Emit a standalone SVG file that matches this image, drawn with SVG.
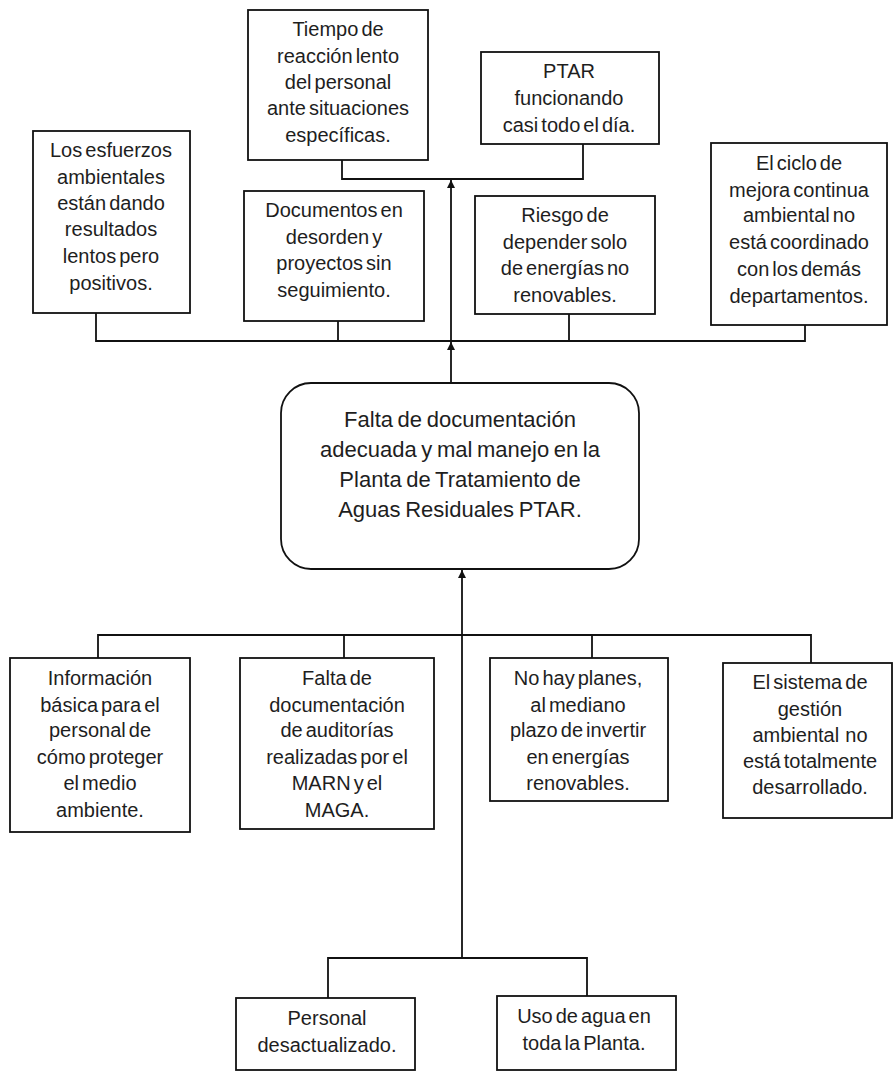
<svg xmlns="http://www.w3.org/2000/svg" width="893" height="1072" viewBox="0 0 893 1072">
  <defs>
    <marker id="arrow" viewBox="0 0 10 10" refX="10" refY="5" markerWidth="9" markerHeight="8" markerUnits="userSpaceOnUse" orient="auto">
      <path d="M0,0 L10,5 L0,10 z" fill="#111"/>
    </marker>
    <style>
      .box { fill: #fff; stroke: #111; stroke-width: 1.8; }
      .conn { fill: none; stroke: #111; stroke-width: 1.8; }
      .t { font-family: "Liberation Sans", Arial, sans-serif; font-size: 20px; fill: #1e1e1e; text-anchor: middle; word-spacing: -2.5px; }
      .main { font-size: 22px; word-spacing: -1.5px; }
    </style>
  </defs>
  <rect width="893" height="1072" fill="#fff"/>

  <!-- connectors -->
  <g id="connectors">
    <!-- upper effects -->
    <polyline class="conn" points="342,160 342,179 583,179 583,144"/>
    <polyline class="conn" points="96,313 96,341 805,341 805,325"/>
    <line class="conn" x1="338" y1="321" x2="338" y2="341"/>
    <line class="conn" x1="569" y1="314" x2="569" y2="341"/>
    <line class="conn" x1="451" y1="383" x2="451" y2="342" marker-end="url(#arrow)"/>
    <line class="conn" x1="451" y1="341" x2="451" y2="180" marker-end="url(#arrow)"/>
    <!-- lower causes -->
    <polyline class="conn" points="98,658 98,635 811,635 811,663"/>
    <line class="conn" x1="344" y1="635" x2="344" y2="658"/>
    <line class="conn" x1="592" y1="635" x2="592" y2="658"/>
    <polyline class="conn" points="328,998 328,958 587,958 587,996"/>
    <line class="conn" x1="462" y1="958" x2="462" y2="570" marker-end="url(#arrow)"/>
  </g>

  <g id="n-tiempo">
    <rect class="box" x="248" y="10" width="180" height="150"/>
    <text class="t" x="338" y="36">Tiempo de</text>
    <text class="t" x="338" y="63">reacción lento</text>
    <text class="t" x="338" y="89">del personal</text>
    <text class="t" x="338" y="115">ante situaciones</text>
    <text class="t" x="338" y="142">específicas.</text>
  </g>

  <g id="n-ptar">
    <rect class="box" x="481" y="52" width="178" height="92"/>
    <text class="t" x="569" y="78">PTAR</text>
    <text class="t" x="569" y="105">funcionando</text>
    <text class="t" x="569" y="132">casi todo el día.</text>
  </g>

  <g id="n-esfuerzos">
    <rect class="box" x="33" y="131" width="157" height="182"/>
    <text class="t" x="111" y="157">Los esfuerzos</text>
    <text class="t" x="111" y="184">ambientales</text>
    <text class="t" x="111" y="210">están dando</text>
    <text class="t" x="111" y="236">resultados</text>
    <text class="t" x="111" y="263">lentos pero</text>
    <text class="t" x="111" y="290">positivos.</text>
  </g>

  <g id="n-documentos">
    <rect class="box" x="244" y="191" width="180" height="130"/>
    <text class="t" x="334" y="217">Documentos en</text>
    <text class="t" x="334" y="244">desorden y</text>
    <text class="t" x="334" y="270">proyectos sin</text>
    <text class="t" x="334" y="297">seguimiento.</text>
  </g>

  <g id="n-riesgo">
    <rect class="box" x="475" y="196" width="180" height="118"/>
    <text class="t" x="565" y="222">Riesgo de</text>
    <text class="t" x="565" y="249">depender solo</text>
    <text class="t" x="565" y="275">de energías no</text>
    <text class="t" x="565" y="302">renovables.</text>
  </g>

  <g id="n-ciclo">
    <rect class="box" x="711" y="143" width="176" height="182"/>
    <text class="t" x="799" y="170">El ciclo de</text>
    <text class="t" x="799" y="197">mejora continua</text>
    <text class="t" x="799" y="222">ambiental no</text>
    <text class="t" x="799" y="249">está coordinado</text>
    <text class="t" x="799" y="276">con los demás</text>
    <text class="t" x="799" y="303">departamentos.</text>
  </g>

  <g id="n-problema">
    <rect class="box" x="281" y="383" width="358" height="186" rx="30" ry="30"/>
    <text class="t main" x="460" y="427">Falta de documentación</text>
    <text class="t main" x="460" y="457">adecuada y mal manejo en la</text>
    <text class="t main" x="460" y="487">Planta de Tratamiento de</text>
    <text class="t main" x="460" y="517">Aguas Residuales PTAR.</text>
  </g>

  <g id="n-informacion">
    <rect class="box" x="10" y="658" width="180" height="174"/>
    <text class="t" x="100" y="685">Información</text>
    <text class="t" x="100" y="712">básica para el</text>
    <text class="t" x="100" y="737">personal de</text>
    <text class="t" x="100" y="764">cómo proteger</text>
    <text class="t" x="100" y="790">el medio</text>
    <text class="t" x="100" y="817">ambiente.</text>
  </g>

  <g id="n-auditorias">
    <rect class="box" x="240" y="658" width="194" height="171"/>
    <text class="t" x="337" y="685">Falta de</text>
    <text class="t" x="337" y="712">documentación</text>
    <text class="t" x="337" y="737">de auditorías</text>
    <text class="t" x="337" y="764">realizadas por el</text>
    <text class="t" x="337" y="790">MARN y el</text>
    <text class="t" x="337" y="817">MAGA.</text>
  </g>

  <g id="n-planes">
    <rect class="box" x="490" y="658" width="178" height="143"/>
    <text class="t" x="578" y="685">No hay planes,</text>
    <text class="t" x="578" y="712">al mediano</text>
    <text class="t" x="578" y="737">plazo de invertir</text>
    <text class="t" x="578" y="764">en energías</text>
    <text class="t" x="578" y="790">renovables.</text>
  </g>

  <g id="n-sistema">
    <rect class="box" x="723" y="663" width="169" height="155"/>
    <text class="t" x="810" y="689">El sistema de</text>
    <text class="t" x="810" y="716">gestión</text>
    <text class="t" x="810" y="742" xml:space="preserve">ambiental  no</text>
    <text class="t" x="810" y="768">está totalmente</text>
    <text class="t" x="810" y="794">desarrollado.</text>
  </g>

  <g id="n-personal">
    <rect class="box" x="236" y="998" width="179" height="72"/>
    <text class="t" x="327" y="1025">Personal</text>
    <text class="t" x="327" y="1052">desactualizado.</text>
  </g>

  <g id="n-agua">
    <rect class="box" x="497" y="996" width="179" height="74"/>
    <text class="t" x="584" y="1023">Uso de agua en</text>
    <text class="t" x="584" y="1050">toda la Planta.</text>
  </g>
</svg>
